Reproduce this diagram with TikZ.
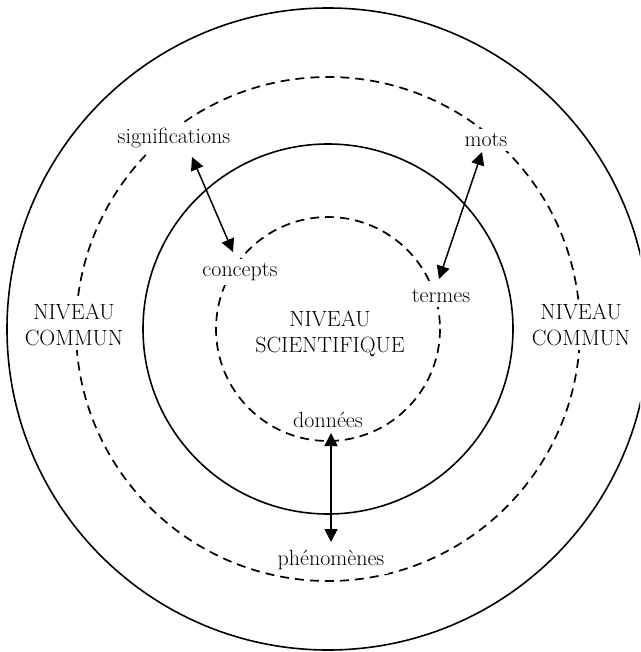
\documentclass[tikz,border=0pt]{standalone}
\usetikzlibrary{arrows.meta}
\begin{document}
\begin{tikzpicture}[x=1pt,y=-1pt,
  ring/.style={line width=1.6pt},
  dashring/.style={line width=1.7pt,dash pattern=on 9pt off 6pt},
  lbl/.style={font=\fontsize{22}{26}\selectfont,inner sep=4pt,fill=white,align=center,text=black},
  link/.style={line width=1.5pt,{Triangle[length=13pt,width=13pt]}-{Triangle[length=13pt,width=13pt]}}]
\useasboundingbox (0,0) rectangle (640,652);
\clip (0,0) rectangle (640,652);
\coordinate (c) at (328,329);
\draw[ring] (c) circle[radius=321];
\draw[dashring] (c) circle[radius=252];
\draw[ring] (c) circle[radius=185];
\draw[dashring] (c) circle[radius=112];
\node[lbl] (signif) at (174,138) {significations};
\node[lbl] (mots) at (486,140) {mots};
\node[lbl] (concepts) at (240,272) {concepts};
\node[lbl] (termes) at (441,296) {termes};
\node[lbl] (scient) at (330,334) {NIVEAU\\SCIENTIFIQUE};
\node[lbl] (donnees) at (328,420) {données};
\node[lbl] (phen) at (331,560) {phénomènes};
\node[lbl] (communL) at (74,325) {NIVEAU\\COMMUN};
\node[lbl] (communR) at (581,325) {NIVEAU\\COMMUN};
\coordinate (a1) at (192,157);
\coordinate (a2) at (233,252);
\coordinate (b1) at (482,152);
\coordinate (b2) at (439,279);
\coordinate (d1) at (331,433);
\coordinate (d2) at (331,542);
\draw[link] (a1) -- (a2);
\draw[link] (b1) -- (b2);
\draw[link] (d1) -- (d2);
\end{tikzpicture}
\end{document}
